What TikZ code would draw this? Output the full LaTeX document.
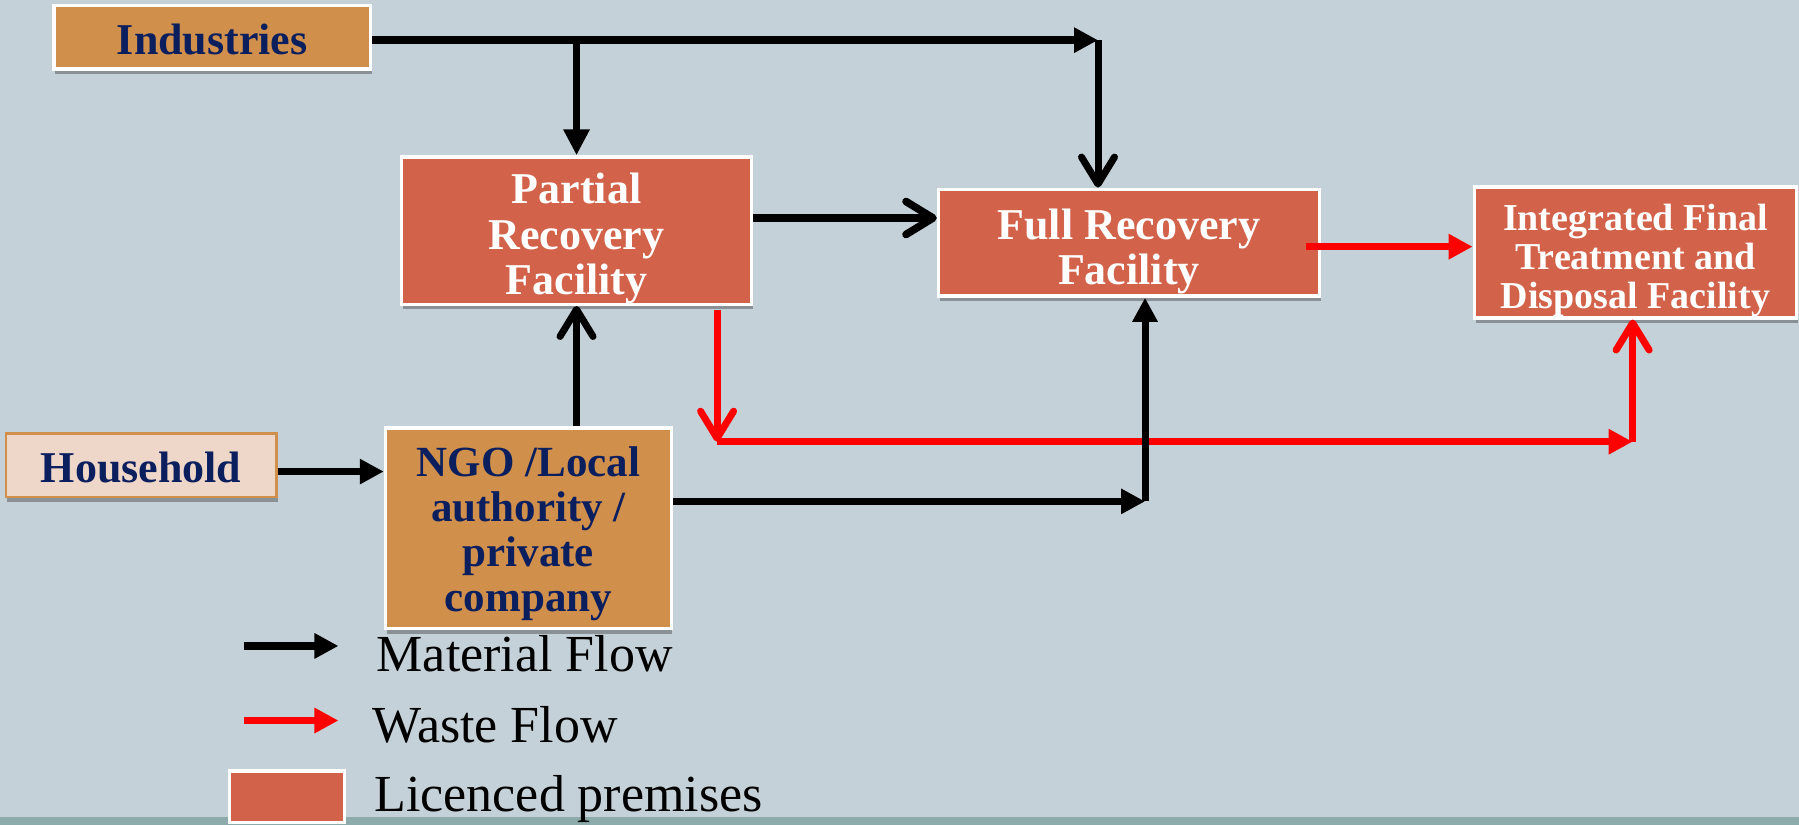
\documentclass[tikz,border=0pt]{standalone}
\usepackage{fontspec}
\setmainfont{Liberation Serif}
\usetikzlibrary{arrows.meta,shadows,calc}
\definecolor{bgc}{HTML}{C5D1D8}
\definecolor{licc}{HTML}{D2634A}
\definecolor{orgc}{HTML}{D08F4B}
\definecolor{peachc}{HTML}{EED6C8}
\definecolor{navyc}{HTML}{0B1F5E}
\definecolor{bandc}{HTML}{8DABAB}
\definecolor{wredc}{HTML}{FF0000}
\newcommand\tshift[1]{\rule{0pt}{#1}}
\begin{document}
\begin{tikzpicture}[x={(0.5737pt,0pt)},y={(0pt,-0.5737pt)},
  box/.style={draw=white, line width=1.7pt, inner sep=0pt, align=center,
    drop shadow={shadow xshift=0.6pt, shadow yshift=-2.6pt, opacity=0.3, fill=black}},
  licbox/.style={box, fill=licc, text=white},
  orgbox/.style={box, fill=orgc, text=navyc},
  bigf/.style={font=\bfseries\fontsize{22}{22.7}\selectfont},
  matl/.style={draw=black, line width=3.5pt},
  wst/.style={draw=wredc, line width=3.5pt},
  tri/.style={-{Triangle[length=12pt,width=12pt]}},
  barb/.style={-{Straight Barb[length=13.5pt,width=16.5pt,round]}},
  legtext/.style={anchor=base west, inner sep=0pt, font=\fontsize{26}{26}\selectfont}
]
\fill[bgc] (0,0) rectangle (1568,719);
\fill[bandc] (0,712) rectangle (1568,719);

% nodes
\node[orgbox, bigf, minimum width=158.3pt, minimum height=31.6pt] (ind) at (185,32.5) {\tshift{17.2pt}Industries};
\node[licbox, bigf, minimum width=175pt, minimum height=73.4pt] (prf) at (502.5,201) {\tshift{23.5pt}Partial\\Recovery\\Facility};
\node[licbox, bigf, minimum width=190.5pt, minimum height=53.4pt] (frf) at (984,211.5) {\tshift{24.1pt}Full Recovery\\Facility};
\node[licbox, font=\bfseries\fontsize{19}{19.6}\selectfont, minimum width=161.2pt, minimum height=65.4pt] (ifd) at (1425.5,220) {\tshift{20.9pt}Integrated Final\\Treatment and\\Disposal Facility};
\node[box, draw=orgc, line width=1.2pt, fill=peachc, text=navyc, bigf, minimum width=135.4pt, minimum height=31.6pt] (hh) at (123,405.5) {\tshift{17.2pt}Household};
\node[orgbox, font=\bfseries\fontsize{21.5}{22.5}\selectfont, minimum width=142.9pt, minimum height=100.4pt] (ngo) at (460.5,460.5) {\tshift{20pt}NGO /Local\\authority /\\private\\company};

% coordinates
\coordinate (c1) at (957,35);
\coordinate (c2) at (998,437);
\coordinate (r1) at (625,270);
\coordinate (r2) at (625,385);
\coordinate (r3) at (1423,385);

% waste flows
\draw[wst, barb] (r1) -- (r2);
\draw[wst, tri] (r2) -- (r3);
\draw[wst, barb] (r3) -- (r3 |- ifd.south);
\draw[wst, line width=3.8pt, tri] ($(frf.east |- 0,215)+(-13,0)$) -- (ifd.west |- 0,215);

% material flows
\draw[matl, line width=3.8pt, tri] (ind.east |- c1) -- (c1);
\draw[matl, barb] (c1) -- (c1 |- frf.north);
\draw[matl, -{Triangle[length=13pt,width=12.5pt]}] (prf.north |- c1) -- (prf.north);
\draw[matl, line width=3.8pt, barb] (prf.east |- 0,190) -- (frf.west |- 0,190);
\draw[matl, barb] (prf.south |- ngo.north) -- (prf.south);
\draw[matl, tri] (hh.east |- 0,411) -- (ngo.west |- 0,411);
\draw[matl, tri] (ngo.east |- c2) -- (c2);
\draw[matl, tri] (c2) -- (c2 |- frf.south);

% legend
\coordinate (la1) at (213,563);
\coordinate (la2) at (295,563);
\coordinate (lb1) at (213,628);
\coordinate (lb2) at (295,628);
\draw[matl, line width=3.6pt, tri] (la1) -- (la2);
\draw[wst, line width=3.6pt, tri] (lb1) -- (lb2);
\node[draw=white, line width=1.7pt, fill=licc, minimum width=57.4pt, minimum height=25.8pt, inner sep=0pt] (leg) at (250,694.5) {};
\node[legtext] (lt1) at (328,585) {Material Flow};
\node[legtext] (lt2) at (324,647) {Waste Flow};
\node[legtext] (lt3) at (326,707) {Licenced premises};
\end{tikzpicture}
\end{document}
